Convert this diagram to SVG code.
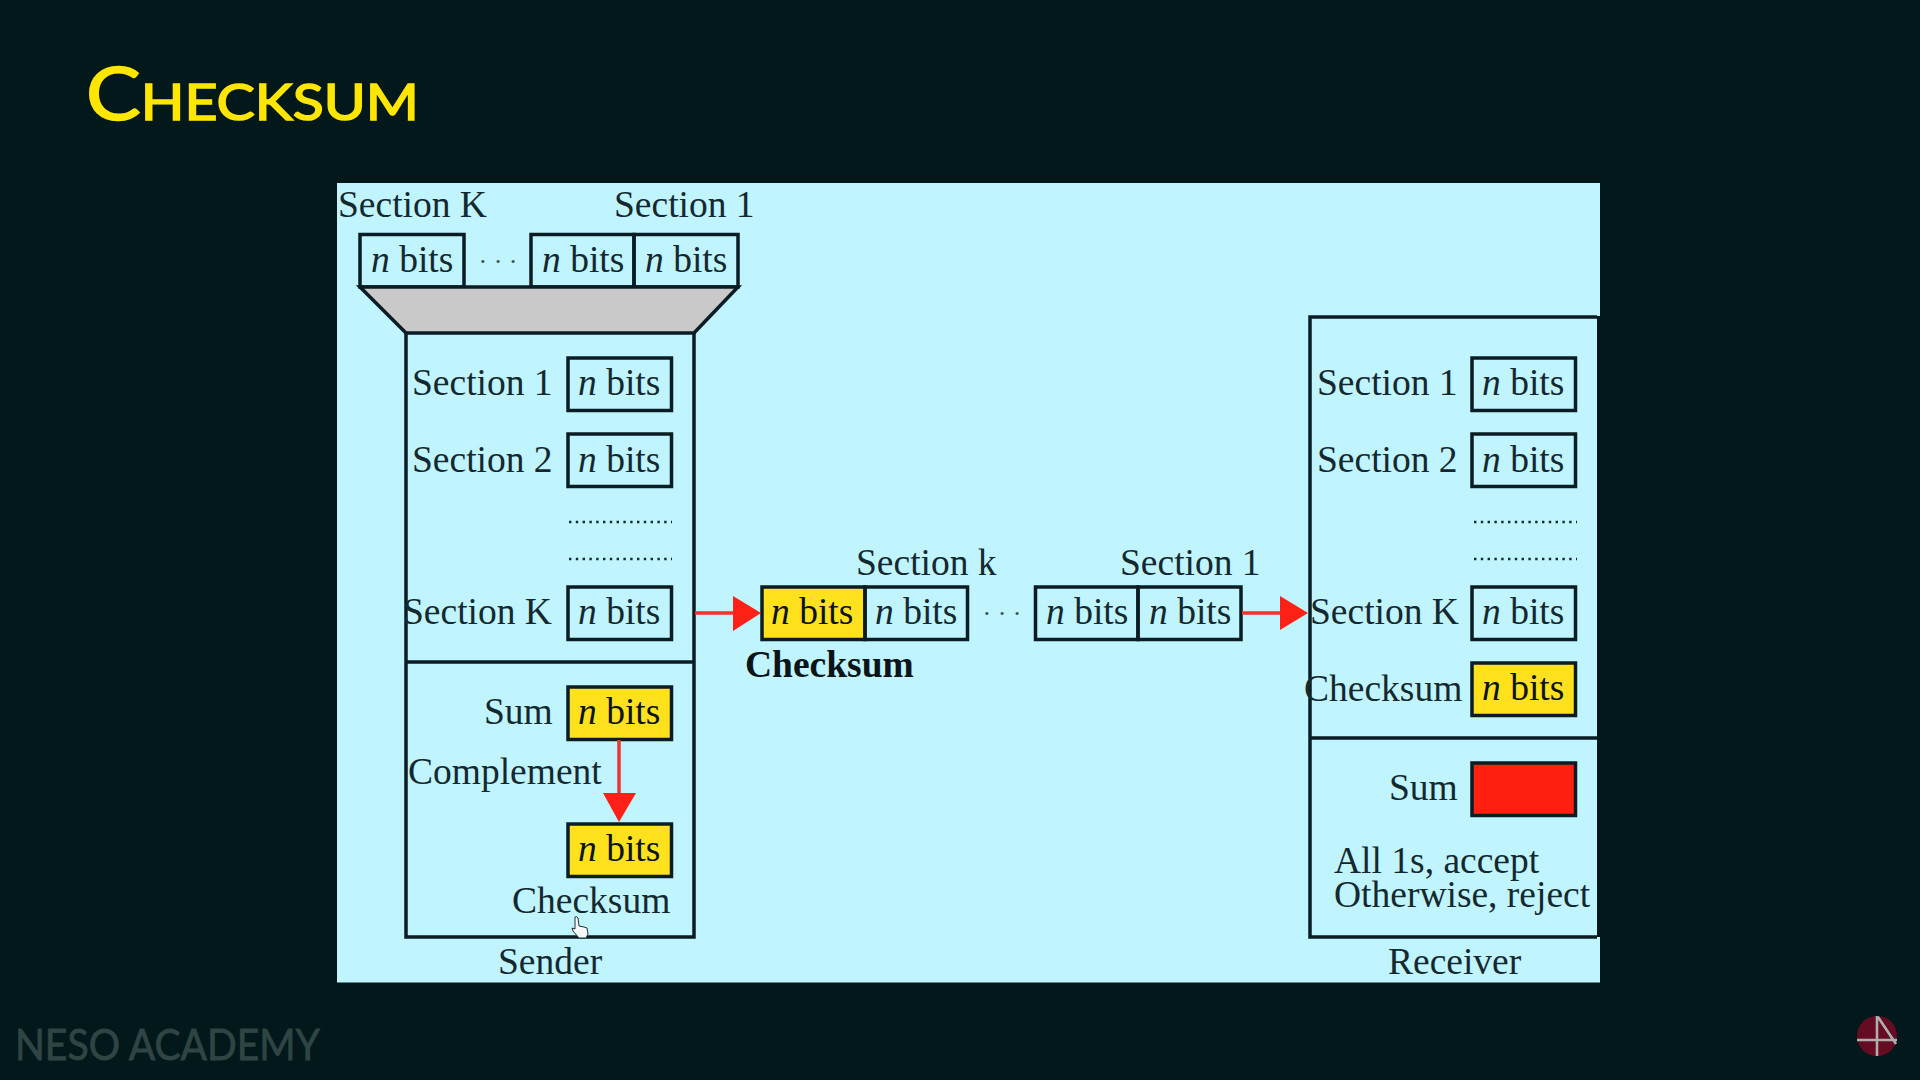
<svg xmlns="http://www.w3.org/2000/svg" width="1920" height="1080" viewBox="0 0 1920 1080">
<style>
.t{font-family:"Liberation Serif","Times New Roman",serif;font-size:37.5px;fill:#14292f}
.b{font-family:"Liberation Serif","Times New Roman",serif;font-size:37.5px;fill:#0b1418}
.n{font-style:italic}
.d{font-family:"Liberation Serif","Times New Roman",serif;font-size:26px;fill:#3a4f55}
.box{fill:none;stroke:#0b1c24;stroke-width:3.5}
.y{fill:#ffe11e;stroke:#0b1c24;stroke-width:3.5}
.r{fill:#ff2010;stroke:#0b1c24;stroke-width:3.5}
.frame{fill:none;stroke:#0b1c24;stroke-width:3.5}
.dots{stroke:#14292f;stroke-width:2.4;stroke-dasharray:2.4 4.4;fill:none}
.arrow{stroke:#f0352f;stroke-width:3.5;fill:none}
.head{fill:#ff2018}
</style>
<rect width="1920" height="1080" fill="#02181a"/>
<g id="title"><text x="86" y="120" font-family="Lato,'Noto Sans',sans-serif" font-size="73" font-weight="400" font-variant="small-caps" fill="#ffe600" stroke="#ffe600" stroke-width="1.6" textLength="333" lengthAdjust="spacingAndGlyphs">Checksum</text></g>
<path id="panel" d="M337 183H1600V316H1597V937H1600V982.5H337Z" fill="#c0f4fe"/>

<g id="sender-input">
<text class="t" x="338" y="217">Section K</text>
<text class="t" x="614" y="217">Section 1</text>
<rect class="box" x="360" y="234.5" width="104" height="52.5"/>
<rect class="box" x="531" y="234.5" width="103" height="52.5"/>
<rect class="box" x="634" y="234.5" width="104" height="52.5"/>
<text class="t" x="371" y="272"><tspan class="n">n</tspan> bits</text>
<text class="t" x="542" y="272"><tspan class="n">n</tspan> bits</text>
<text class="t" x="645" y="272"><tspan class="n">n</tspan> bits</text>
<text class="d" x="498" y="270" text-anchor="middle">· · ·</text>
</g>
<g id="funnel"><path d="M360 287H738L694 333H406Z" fill="#c9c9c9" stroke="#0b1c24" stroke-width="3.5"/></g>

<g id="sender">
<path class="frame" d="M406 333V937H694V333M406 662H694"/>
<text class="t" x="412" y="395">Section 1</text>
<rect class="box" x="568" y="358" width="103.5" height="52.5"/>
<text class="t" x="578" y="395"><tspan class="n">n</tspan> bits</text>
<text class="t" x="412" y="472">Section 2</text>
<rect class="box" x="568" y="434" width="103.5" height="52.5"/>
<text class="t" x="578" y="472"><tspan class="n">n</tspan> bits</text>
<path class="dots" d="M569 522H672M569 559H672"/>
<text class="t" x="403" y="624">Section K</text>
<rect class="box" x="568" y="587" width="103.5" height="52.5"/>
<text class="t" x="578" y="624"><tspan class="n">n</tspan> bits</text>
<text class="t" x="484" y="724">Sum</text>
<rect class="y" x="568" y="687" width="103.5" height="52.5"/>
<text class="b" x="578" y="724"><tspan class="n">n</tspan> bits</text>
<text class="t" x="408" y="784">Complement</text>
<rect class="y" x="568" y="824" width="103.5" height="52.5"/>
<text class="b" x="578" y="861"><tspan class="n">n</tspan> bits</text>
<text class="t" x="512" y="913">Checksum</text>
<text class="t" x="498" y="974">Sender</text>
</g>

<g id="message">
<text class="t" x="856" y="575">Section k</text>
<text class="t" x="1120" y="575">Section 1</text>
<rect class="y" x="762" y="587" width="103" height="52.5"/>
<rect class="box" x="865" y="587" width="102.5" height="52.5"/>
<rect class="box" x="1035.5" y="587" width="102.5" height="52.5"/>
<rect class="box" x="1138" y="587" width="103" height="52.5"/>
<text class="b" x="771" y="624"><tspan class="n">n</tspan> bits</text>
<text class="t" x="875" y="624"><tspan class="n">n</tspan> bits</text>
<text class="t" x="1046" y="624"><tspan class="n">n</tspan> bits</text>
<text class="t" x="1149" y="624"><tspan class="n">n</tspan> bits</text>
<text class="d" x="1002" y="622" text-anchor="middle">· · ·</text>
<text class="b" x="745" y="677" font-weight="700">Checksum</text>
</g>

<g id="receiver">
<path class="frame" d="M1597 317H1310V937H1597M1310 738H1597"/>
<text class="t" x="1317" y="395">Section 1</text>
<rect class="box" x="1472" y="358" width="103.5" height="52.5"/>
<text class="t" x="1482" y="395"><tspan class="n">n</tspan> bits</text>
<text class="t" x="1317" y="472">Section 2</text>
<rect class="box" x="1472" y="434" width="103.5" height="52.5"/>
<text class="t" x="1482" y="472"><tspan class="n">n</tspan> bits</text>
<path class="dots" d="M1474 522H1577M1474 559H1577"/>
<text class="t" x="1310" y="624">Section K</text>
<rect class="box" x="1472" y="587" width="103.5" height="52.5"/>
<text class="t" x="1482" y="624"><tspan class="n">n</tspan> bits</text>
<text class="t" x="1304" y="701">Checksum</text>
<rect class="y" x="1472" y="663" width="103.5" height="52.5"/>
<text class="b" x="1482" y="700"><tspan class="n">n</tspan> bits</text>
<text class="t" x="1389" y="800">Sum</text>
<rect class="r" x="1472" y="763" width="103.5" height="52.5"/>
<text class="t" x="1334" y="873">All 1s, accept</text>
<text class="t" x="1334" y="907">Otherwise, reject</text>
<text class="t" x="1388" y="974">Receiver</text>
</g>

<g id="connectors">
<path class="arrow" d="M695 613H735"/><path class="head" d="M733 596L761 613L733 631Z"/>
<path class="arrow" d="M1242 613H1282"/><path class="head" d="M1280 596L1308 613L1280 630Z"/>
<path class="arrow" d="M619 740V795"/><path class="head" d="M603 793H636L619 822Z"/>
</g>

<g id="cursor"><path d="M575 917q2-1 3 1l1 8 5 1 3 1 1 6-2 4h-7l-6-7-1-3 3 1Z" fill="#f4f8f8" stroke="#22343a" stroke-width="1"/></g>
<g id="watermark"><text x="15" y="1060" font-family="Lato,'Noto Sans',sans-serif" font-size="43" font-weight="400" stroke="#2e4544" stroke-width="0.8" fill="#2e4544" textLength="305" lengthAdjust="spacingAndGlyphs">NESO ACADEMY</text></g>
<g id="logo">
<circle cx="1877" cy="1036" r="20" fill="#650b22"/>
<path d="M1877 1016V1056M1857 1040H1897M1878 1017L1896 1044" stroke="#aeaeae" stroke-width="2.6" fill="none"/>
</g>
</svg>
